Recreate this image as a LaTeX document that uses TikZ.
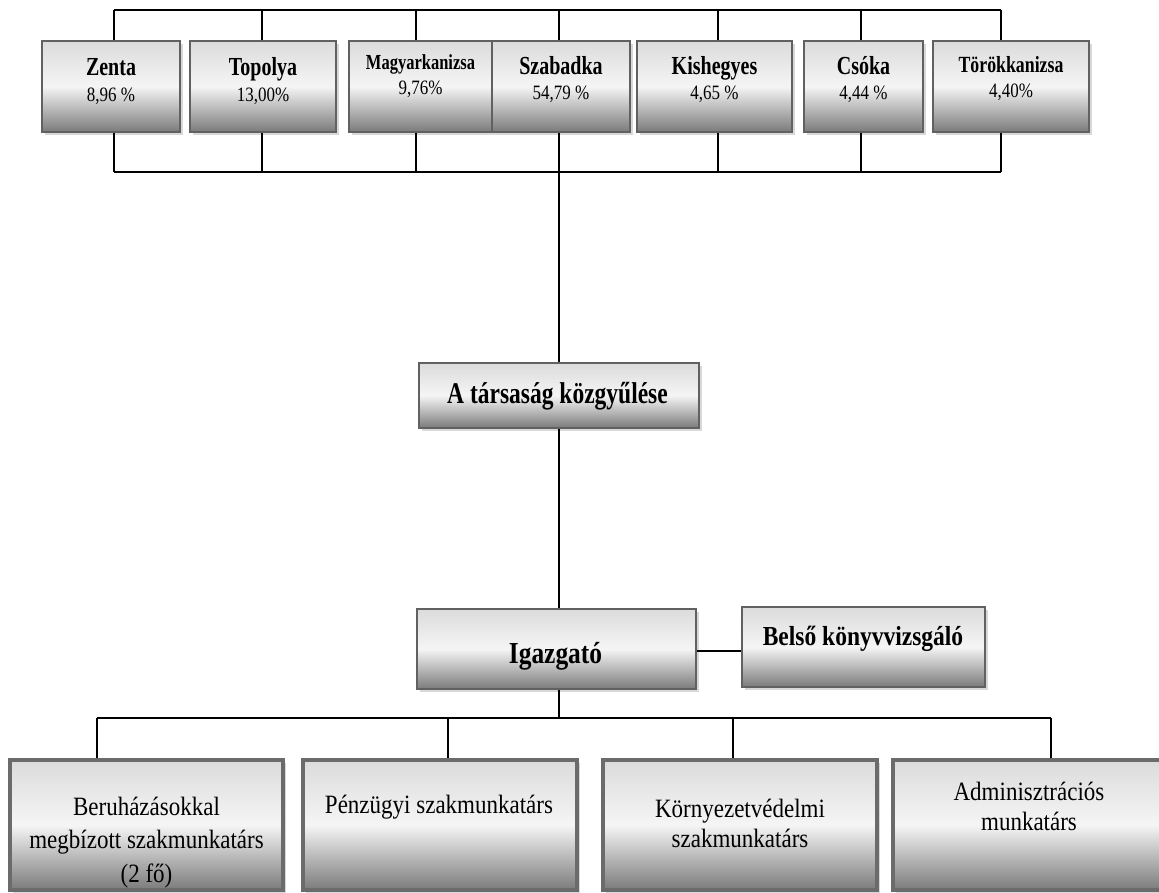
\documentclass[tikz,border=0pt]{standalone}
\usepackage{fontspec}
\setmainfont{Liberation Serif}
\usetikzlibrary{shadows,calc}
\newcommand{\sy}[2]{\scalebox{1}[#1]{#2}}
\newcommand{\stack}[2]{\vtop{\baselineskip=#1\lineskiplimit=-1000pt\relax\halign{\hfil##\hfil\cr #2\crcr}}}
\newcommand{\fs}[1]{\fontsize{#1}{#1}\selectfont}
\begin{document}
\begin{tikzpicture}[x=1pt,y=-1pt,
  box/.style={draw=black!62, line width=1.6pt, top color=black!14, bottom color=black!52, middle color=black!4,
    drop shadow={shadow xshift=2.5pt, shadow yshift=-3pt, opacity=0.3}, inner sep=0pt},
  topbox/.style={box, minimum height=91pt},
  lowbox/.style={box, line width=4pt, draw=black!58, minimum height=130pt},
  txt/.style={inner sep=0pt, anchor=base},
  conn/.style={draw=black, line width=1.2pt}]
\useasboundingbox (0,0) rectangle (1159,893);
\clip (0,0) rectangle (1159,893);
\fill[white] (0,0) rectangle (1159,893);

% top row
\node[topbox, minimum width=138pt] (zenta) at (111,86.5) {};
\node[topbox, minimum width=146pt] (topolya) at (263,86.5) {};
\node[topbox, minimum width=143pt] (magyar) at (420.5,86.5) {};
\node[topbox, minimum width=138pt] (szabadka) at (561,86.5) {};
\node[topbox, minimum width=155pt] (kishegyes) at (714.5,86.5) {};
\node[topbox, minimum width=119pt] (csoka) at (863.5,86.5) {};
\node[topbox, minimum width=156pt] (torok) at (1011,86.5) {};

\node[txt] (zenta-t) at (111,76) {\stack{26pt}{\sy{1.3}{\fs{20}\bfseries Zenta}\cr\sy{1.2}{\fs{17}8,96 \%}}};
\node[txt] (topolya-t) at (263,76) {\stack{26pt}{\sy{1.3}{\fs{20}\bfseries Topolya}\cr\sy{1.2}{\fs{17}13,00\%}}};
\node[txt] (magyar-t) at (420.5,70) {\stack{25pt}{\sy{1.3}{\fs{16.5}\bfseries Magyarkanizsa}\cr\sy{1.2}{\fs{17}9,76\%}}};
\node[txt] (szabadka-t) at (561,75) {\stack{25pt}{\sy{1.3}{\fs{20}\bfseries Szabadka}\cr\sy{1.2}{\fs{17}54,79 \%}}};
\node[txt] (kishegyes-t) at (714.5,75) {\stack{25pt}{\sy{1.3}{\fs{20}\bfseries Kishegyes}\cr\sy{1.2}{\fs{17}4,65 \%}}};
\node[txt] (csoka-t) at (863.5,75) {\stack{25pt}{\sy{1.3}{\fs{20}\bfseries Csóka}\cr\sy{1.2}{\fs{17}4,44 \%}}};
\node[txt] (torok-t) at (1011,73) {\stack{25pt}{\sy{1.3}{\fs{17.8}\bfseries Törökkanizsa}\cr\sy{1.2}{\fs{17}4,40\%}}};

% middle
\node[box, minimum width=280pt, minimum height=65pt] (kozgy) at (559,395.5) {};
\node[txt] (kozgy-t) at (557.5,403) {\sy{1.28}{\fs{23.5}\bfseries A társaság közgyűlése}};
\node[box, minimum width=279pt, minimum height=80pt] (igazgato) at (556.5,649) {};
\node[txt] (igazgato-t) at (555.5,663) {\sy{1.2}{\fs{25.4}\bfseries Igazgató}};
\node[box, minimum width=243pt, minimum height=80pt] (belso) at (863.5,647) {};
\node[txt] (belso-t) at (863,645) {\sy{1.17}{\fs{23.5}\bfseries Belső könyvvizsgáló}};

% bottom row
\node[lowbox, minimum width=273pt] (beruh) at (146.5,825) {};
\node[lowbox, minimum width=274pt] (penz) at (440,825) {};
\node[lowbox, minimum width=274pt] (korny) at (740,825) {};
\node[lowbox, minimum width=275pt] (admin) at (1030.5,825) {};
\node[txt] (beruh-t) at (146.5,815) {\stack{33.5pt}{\sy{1.15}{\fs{23}Beruházásokkal}\cr\sy{1.15}{\fs{23}megbízott szakmunkatárs}\cr\sy{1.15}{\fs{23}(2 fő)}}};
\node[txt] (penz-t) at (439,813) {\sy{1.15}{\fs{23}Pénzügyi szakmunkatárs}};
\node[txt] (korny-t) at (740,817) {\stack{30pt}{\sy{1.15}{\fs{23}Környezetvédelmi}\cr\sy{1.15}{\fs{23}szakmunkatárs}}};
\node[txt] (admin-t) at (1029,800) {\stack{30pt}{\sy{1.15}{\fs{23}Adminisztrációs}\cr\sy{1.15}{\fs{23}munkatárs}}};

% connectors
\coordinate (tbus) at (0,10);
\coordinate (bbus) at (0,172);
\coordinate (lbus) at (0,718);
\foreach \n/\s in {zenta/3, topolya/-1, magyar/-4.5, szabadka/-2, kishegyes/3.5, csoka/-2.5, torok/-10}{
  \draw[conn] ([xshift=\s pt]\n.north) -- ([xshift=\s pt]\n.north |- tbus);
  \draw[conn] ([xshift=\s pt]\n.south) -- ([xshift=\s pt]\n.south |- bbus);
}
\draw[conn] ([xshift=3pt]zenta.north |- tbus) -- ([xshift=-10pt]torok.north |- tbus);
\draw[conn] ([xshift=3pt]zenta.south |- bbus) -- ([xshift=-10pt]torok.south |- bbus);
\draw[conn] (kozgy.north |- bbus) -- (kozgy.north);
\draw[conn] (kozgy.south) -- (kozgy.south |- igazgato.north);
\draw[conn] ([yshift=-2pt]igazgato.east) -- ([yshift=-2pt]igazgato.east -| belso.west);
\draw[conn] ([xshift=2.5pt]igazgato.south) -- ([xshift=2.5pt]igazgato.south |- lbus);
\draw[conn] ([xshift=-49.5pt]beruh.north |- lbus) -- ([xshift=20.5pt]admin.north |- lbus);
\foreach \n/\s in {beruh/-49.5, penz/8, korny/-7, admin/20.5}{
  \draw[conn] ([xshift=\s pt]\n.north) -- ([xshift=\s pt]\n.north |- lbus);
}
\end{tikzpicture}
\end{document}
